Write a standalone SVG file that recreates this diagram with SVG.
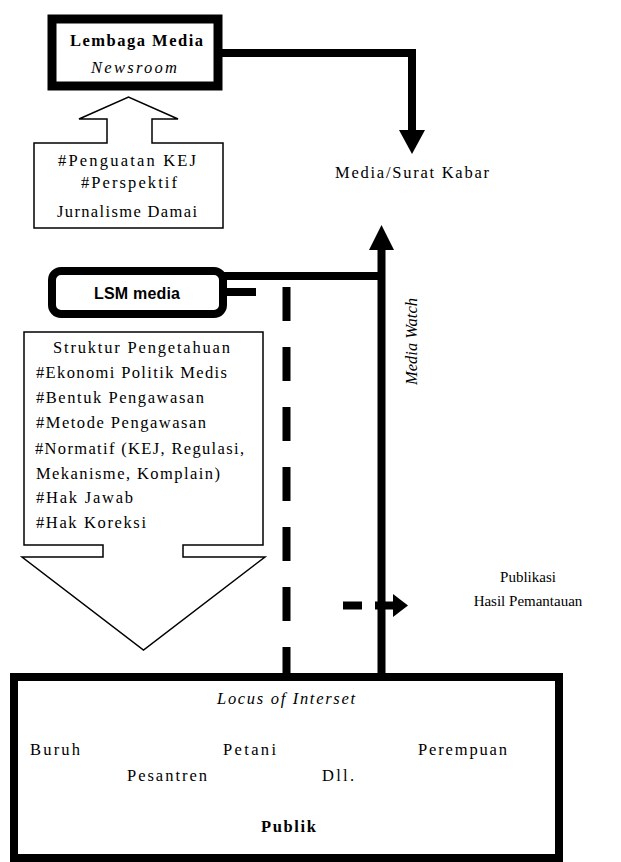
<svg xmlns="http://www.w3.org/2000/svg" width="621" height="862" viewBox="0 0 621 862">
<style>
.t{font-family:"Liberation Serif","Times New Roman",serif;font-size:16.5px;fill:#000}
.p{font-size:15px}
.b{font-weight:bold}
.i{font-style:italic}
.s{font-family:"Liberation Sans",Arial,sans-serif;font-size:16px;font-weight:bold;fill:#000}
.thick{fill:none;stroke:#000;stroke-width:8}
.thin{fill:#fff;stroke:#000;stroke-width:1.5}
.head{fill:#000;stroke:none}
</style>
<rect width="621" height="862" fill="#fff"/>
<g id="connectors">
<path class="thick" d="M222 53 H412 V131"/>
<polygon class="head" points="399,130 425,130 412,154"/>
<line class="thick" x1="381.5" y1="677" x2="381.5" y2="249"/>
<polygon class="head" points="369,250 394,250 381.5,225"/>
<line class="thick" x1="222" y1="276" x2="381.5" y2="276"/>
<line class="thick" x1="222" y1="292" x2="256" y2="292"/>
<line class="thick" x1="286.5" y1="287" x2="286.5" y2="677" stroke-width="9" stroke-dasharray="34 26"/>
<line class="thick" x1="343" y1="605.5" x2="362" y2="605.5"/>
<line class="thick" x1="375" y1="605.5" x2="394" y2="605.5"/>
<polygon class="head" points="393,594 393,617 408,605.5"/>
<text class="t i" transform="translate(417,385) rotate(-90)" textLength="87" lengthAdjust="spacing">Media Watch</text>
</g>
<g id="lembaga-media">
<rect x="52" y="19" width="166" height="67" fill="#fff" stroke="#000" stroke-width="9"/>
<text class="t b" x="70" y="46" textLength="133" lengthAdjust="spacing">Lembaga Media</text>
<text class="t i" x="91" y="73" textLength="86" lengthAdjust="spacing">Newsroom</text>
</g>
<g id="penguatan">
<path class="thin" d="M34 143 H107 V119 H79 L128.5 97 L178 119 H152 V143 H223 V228 H34 Z"/>
<text class="t" x="58" y="166" textLength="138" lengthAdjust="spacing">#Penguatan KEJ</text>
<text class="t" x="81" y="188" textLength="96" lengthAdjust="spacing">#Perspektif</text>
<text class="t" x="57" y="217" textLength="140" lengthAdjust="spacing">Jurnalisme Damai</text>
</g>
<g id="media-surat-kabar">
<text class="t" x="335" y="178" textLength="154" lengthAdjust="spacing">Media/Surat Kabar</text>
</g>
<g id="lsm-media">
<rect x="52" y="271" width="171" height="43" rx="9" fill="#fff" stroke="#000" stroke-width="8"/>
<text class="s" x="94" y="299" textLength="86" lengthAdjust="spacing">LSM media</text>
</g>
<g id="struktur">
<path class="thin" d="M24 332 H263 V545 H183 V557 H265 L143.5 650 L22 557 H103 V545 H24 Z"/>
<text class="t" x="53" y="353" textLength="177" lengthAdjust="spacing">Struktur Pengetahuan</text>
<text class="t" x="36" y="378" textLength="191" lengthAdjust="spacing">#Ekonomi Politik Medis</text>
<text class="t" x="36" y="403" textLength="168" lengthAdjust="spacing">#Bentuk Pengawasan</text>
<text class="t" x="36" y="428" textLength="170" lengthAdjust="spacing">#Metode Pengawasan</text>
<text class="t" x="35" y="454" textLength="209" lengthAdjust="spacing">#Normatif (KEJ, Regulasi,</text>
<text class="t" x="36" y="479" textLength="184" lengthAdjust="spacing">Mekanisme, Komplain)</text>
<text class="t" x="36" y="503" textLength="97" lengthAdjust="spacing">#Hak Jawab</text>
<text class="t" x="36" y="528" textLength="110" lengthAdjust="spacing">#Hak Koreksi</text>
</g>
<g id="publikasi">
<text class="t p" x="528" y="582" text-anchor="middle">Publikasi</text>
<text class="t p" x="528" y="606" text-anchor="middle">Hasil Pemantauan</text>
</g>
<g id="publik">
<rect x="14" y="677" width="545" height="181" fill="#fff" stroke="#000" stroke-width="8"/>
<text class="t i" x="217" y="704" textLength="138" lengthAdjust="spacing">Locus of Interset</text>
<text class="t" x="30" y="755" textLength="50" lengthAdjust="spacing">Buruh</text>
<text class="t" x="223" y="755" textLength="53" lengthAdjust="spacing">Petani</text>
<text class="t" x="418" y="755" textLength="89" lengthAdjust="spacing">Perempuan</text>
<text class="t" x="127" y="781" textLength="80" lengthAdjust="spacing">Pesantren</text>
<text class="t" x="322" y="781" textLength="32" lengthAdjust="spacing">Dll.</text>
<text class="t b" x="261" y="832" textLength="55" lengthAdjust="spacing">Publik</text>
</g>
</svg>
